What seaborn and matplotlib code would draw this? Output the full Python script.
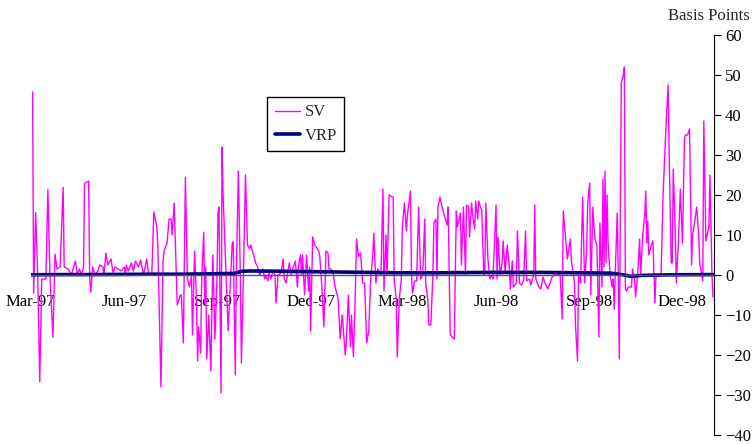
import pandas as pd
import matplotlib
matplotlib.use('Agg')
import matplotlib.pyplot as plt
import matplotlib.dates as mdates
import seaborn as sns

START = pd.Timestamp('1997-03-01')

# SV series: days since 1 Mar 1997, value in basis points
sv_day = [
    2, 3, 5, 7, 9, 11, 15, 17, 19, 22, 24, 26, 29, 32, 33, 37, 40, 44, 46, 48,
    50, 52, 53, 57, 58, 59, 61, 63, 66, 68, 71, 72, 74, 76, 79, 81, 83, 86, 89, 92,
    93, 94, 96, 99, 101, 103, 106, 108, 111, 114, 116, 119, 121, 124, 125, 128, 130, 131, 134, 136,
    138, 139, 141, 144, 147, 148, 150, 152, 154, 156, 158, 159, 161, 163, 164, 165, 167, 168, 170, 171,
    172, 173, 175, 177, 179, 181, 183, 184, 185, 187, 188, 189, 192, 194, 196, 198, 199, 201, 202, 204,
    206, 207, 209, 211, 213, 215, 216, 219, 221, 223, 225, 228, 230, 231, 233, 234, 236, 238, 240, 241,
    243, 246, 248, 249, 251, 253, 254, 256, 258, 260, 262, 263, 265, 266, 267, 269, 271, 273, 274, 275,
    277, 279, 283, 284, 286, 288, 290, 292, 293, 295, 297, 299, 302, 304, 306, 309, 310, 312, 314, 315,
    317, 319, 320, 322, 324, 326, 328, 330, 332, 334, 336, 337, 339, 341, 342, 344, 346, 347, 349, 350,
    352, 355, 356, 357, 359, 360, 362, 364, 365, 367, 369, 370, 373, 374, 375, 377, 379, 381, 383, 385,
    387, 388, 390, 391, 393, 395, 396, 398, 399, 400, 402, 404, 405, 409, 410, 412, 414, 416, 418, 419,
    422, 423, 425, 427, 428, 430, 431, 433, 434, 436, 437, 439, 440, 443, 445, 446, 447, 449, 451, 453,
    454, 457, 458, 459, 461, 463, 464, 466, 468, 470, 471, 473, 474, 477, 478, 480, 482, 484, 486, 487,
    490, 491, 494, 495, 496, 499, 501, 503, 505, 508, 510, 512, 514, 517, 520, 522, 523, 525, 527, 530,
    531, 533, 534, 535, 537, 538, 540, 542, 544, 546, 547, 549, 550, 552, 554, 556, 558, 559, 561, 562,
    563, 564, 565, 566, 567, 569, 571, 572, 573, 574, 576, 577, 578, 580, 582, 583, 584, 585, 587, 590,
    591, 593, 594, 596, 598, 599, 601, 603, 604, 605, 606, 607, 609, 611, 613, 614, 617, 619, 621, 624,
    626, 627, 629, 630, 631, 633, 634, 636, 638, 639, 640, 642, 643, 645, 647, 649, 650, 653, 654, 656,
    657, 660, 661, 663, 666, 667, 669, 670,
]
sv_bp = [
    45.8, -4.6, 15.6, 0, -26.7, -1, -1, 21.4, 0, -15.6, 5.2, 1.5, 2, 21.9, 2, 1.5, 0, 3.5, 0, 1.5,
    0, 2, 22.9, 23.5, 0, -4.3, 2, 0, 1, 2.5, 2, 0, 5.5, 2.5, 4, 0.5, 2, 1.5, 1, 2,
    0, 2.5, 1, 3, 1, 3.5, 2, 3.7, 0, 4, 0, 0, 15.8, 12, 7, -28, 3, 6, 8, 14,
    14, 10, 18, -7.5, -5, -5, -17, 24.5, -1, -3, 0, -15, 6, -7, -21.5, -13, -19.5, -1, 10.7, -7,
    2, -21, -10, -24, 5, -16, -1, 15.5, 17, -29.5, 32, 20, 0, -14, -3, 8, 8.3, -25, 0, 26,
    -1, -22, 0, 25, 7.5, 6.5, 7.5, 5, 3, 2, 0, 1.5, -1, 0, -1.5, 0.5, -1, 1, 0, -7,
    0, 0.5, 4, -1, -2, 1.5, 3, 0, 2, 3.5, -3, 2, 5, 0, 5, -5, 5, -4, 2, -14,
    9.5, 7.5, 6, 4.5, -3, -13, 6, 5.5, 1.5, 1.5, 0.5, -3, -6, -16, -10, -20, -17, -5, -18, -10,
    -20.5, -3, 9, 4.5, 5.5, -2, -2, -17, -14, -1, 5, 10.5, -2, 1.5, 1, 0, 21.5, -4, 10, 0,
    20, 19.5, 19.5, -1, -6, -20.5, -6, -1, 12, 18, 11, 15, 21, 0, -4.6, -1.5, -1.5, 17, -1, 0,
    14, -2.5, -6, -12.5, -12.5, 0, 13, 14, -1, 17, 19.5, 17, 16, 12.5, 17, -15, -15.5, -16, 16, 12,
    15.5, 2.5, 17, 0, 17.5, 17, 9.5, 18, 15, 11.5, 18.5, 14, 18.5, 16, 0, 1, 18, 4, -1, 0,
    -1, 17.5, -1, 9.5, 0, 3, 8.5, 0.5, 7.5, 2, -3.5, 3.5, -3, -2, 11, -2, -2.5, -1.5, 11, -1.5,
    -1, -2.5, 0, 17.5, -1, -3, -3.5, -0.5, -2, -3.5, -2, -0.5, 0, 0, 0, -11, 16, 10, 4, 9,
    3.5, 0, -2, -12.5, -21.5, 0, -2, 19.5, -2, 6.5, 18, 23, -5, 17, 9, 7.5, -15.5, 13, -3, 24,
    2, 26, 3, 20, 8, 0, -3, -1, -8.5, 0, 15.5, 0, -21, 48, 50, 52, -3.5, -4, -3, -3,
    1.5, -1, -5.5, 0, 9, 0, 10, 15, 21, 8, 13.5, 5, 7, 8.5, -7, -0.5, 0, 0, 20, 38,
    47.5, 30, 3, 3, 26.5, 10, -2, 8, 21.5, 15, 8, 34, 35, 35, 36.5, 2.5, 10, 15, 17, 10,
    3, -1.5, 38.5, 8.5, 12, 25, 0, -5.5,
]

# VRP series (smooth, close to zero)
vrp_day = [0, 30, 60, 90, 120, 150, 180, 200, 207, 215, 240, 270, 300, 330, 360,
           400, 450, 500, 540, 570, 580, 590, 600, 630, 670]
vrp_bp = [0.05, 0.1, 0.1, 0.15, 0.2, 0.2, 0.3, 0.4, 0.9, 1.0, 0.95, 0.85, 0.75, 0.65, 0.55,
          0.55, 0.65, 0.65, 0.55, 0.45, 0.1, -0.35, -0.1, 0.05, 0.1]

tick_dates = ['1997-03-01', '1997-06-01', '1997-09-01', '1997-12-01',
              '1998-03-01', '1998-06-01', '1998-09-01', '1998-12-01']
y_ticks = [-40, -30, -20, -10, 0, 10, 20, 30, 40, 50, 60]

sns.set_style('white')
plt.rcParams['font.family'] = ['Liberation Serif', 'DejaVu Serif']

sv = pd.DataFrame({'date': START + pd.to_timedelta(sv_day, unit='D'), 'bp': sv_bp})
vrp = pd.DataFrame({'date': START + pd.to_timedelta(vrp_day, unit='D'), 'bp': vrp_bp})

fig = plt.figure(figsize=(7.53, 4.44), dpi=100)
ax = fig.add_axes([0.0406, 0.0203, 0.9076, 0.9009])

sns.lineplot(data=sv, x='date', y='bp', color='#FF00FF', lw=1.0, ax=ax, label='SV')
sns.lineplot(data=vrp, x='date', y='bp', color='#000080', lw=2.6, ax=ax, label='VRP')

ax.set_xlim(START, pd.Timestamp('1999-01-01'))
ax.set_ylim(-40, 60)
ax.set_xlabel('')
ax.set_ylabel('')

# axes: value axis on the right, date axis crossing at zero
ax.spines['left'].set_visible(False)
ax.spines['top'].set_visible(False)
ax.spines['right'].set_color('black')
ax.spines['right'].set_linewidth(0.8)
ax.spines['bottom'].set_position(('data', 0))
ax.spines['bottom'].set_color('#555555')
ax.spines['bottom'].set_linewidth(1.0)

ax.yaxis.tick_right()
ax.set_yticks(y_ticks)
ax.set_xticks(pd.to_datetime(tick_dates))
ax.xaxis.set_major_formatter(mdates.DateFormatter('%b-%y'))
ax.tick_params(axis='x', direction='out', length=4, width=0.8, pad=10,
               labelsize=12, colors='black')
ax.tick_params(axis='y', direction='out', length=5, width=0.8, pad=3,
               labelsize=12, colors='black', right=True, left=False)

fig.text(750 / 753, 1 - 16 / 444, 'Basis Points', ha='right', va='center', fontsize=12)

leg = ax.legend(loc='upper left', bbox_to_anchor=(267 / 753, 1 - 97 / 444),
                bbox_transform=fig.transFigure, frameon=True, fancybox=False,
                edgecolor='black', framealpha=1, borderaxespad=0, fontsize=12,
                handlelength=1.5, labelspacing=0.45, borderpad=0.45, handletextpad=0.3)
leg.get_frame().set_linewidth(1.0)
leg._legend_box.align = 'left'

plt.savefig('out.png', dpi=100, facecolor='white')
plt.close()
